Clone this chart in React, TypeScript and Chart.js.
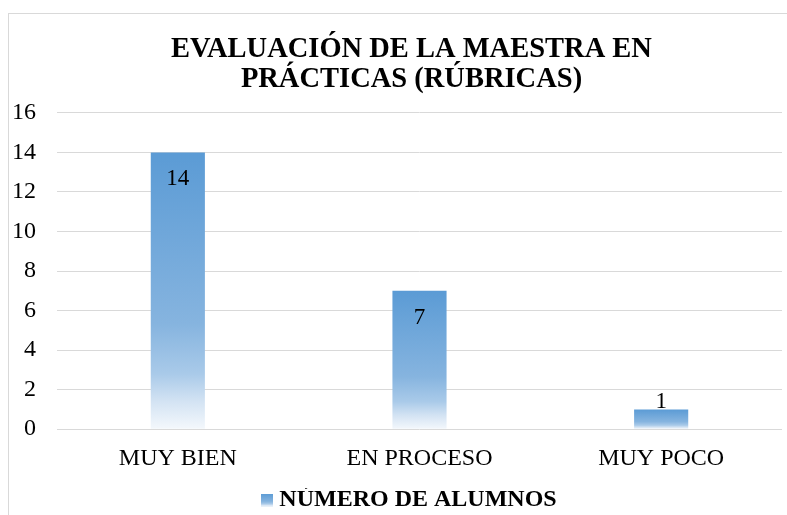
import React, { useEffect, useRef } from "react";
import { Chart, registerables } from "chart.js";

Chart.register(...registerables);

const categories = ["MUY BIEN", "EN PROCESO", "MUY POCO"];
const seriesName = "NÚMERO DE ALUMNOS";
const values = [14, 7, 1];
const yMin = 0;
const yMax = 16;
const yStep = 2;
const titleLines = ["EVALUACIÓN DE LA MAESTRA EN", "PRÁCTICAS (RÚBRICAS)"];

const SERIF = "'Liberation Serif', 'Times New Roman', serif";

function addStops(g: CanvasGradient) {
  g.addColorStop(0, "#5B9BD5");
  g.addColorStop(0.62, "#86B4DF");
  g.addColorStop(0.8, "#A9CAE9");
  g.addColorStop(0.9, "#D3E3F3");
  g.addColorStop(1, "#F4F8FC");
}

function makeLegendIcon(): HTMLCanvasElement {
  const c = document.createElement("canvas");
  c.width = 12;
  c.height = 13;
  const cx = c.getContext("2d")!;
  const g = cx.createLinearGradient(0, 0, 0, 13);
  addStops(g);
  cx.fillStyle = g;
  cx.fillRect(0, 0, 12, 13);
  return c;
}

const labelPlugin = {
  id: "barLabels",
  afterDatasetsDraw(chart: any) {
    const ctx = chart.ctx;
    const meta = chart.getDatasetMeta(0);
    ctx.save();
    ctx.font = `23px ${SERIF}`;
    ctx.fillStyle = "#000";
    ctx.textAlign = "center";
    ctx.textBaseline = "middle";
    meta.data.forEach((el: any, i: number) => {
      const h = el.base - el.y;
      const y = h > 45 ? el.y + 27 : el.y - 7;
      ctx.fillText(String(values[i]), el.x, y);
    });
    ctx.restore();
  },
};

// let the narrow y axis draw its labels to the left of its own box
const axisClipPlugin = {
  id: "axisClip",
  afterLayout(chart: any) {
    const y = chart.scales.y;
    if (y) y.left = 0;
  },
};

export default function App() {
  const ref = useRef<HTMLCanvasElement | null>(null);
  useEffect(() => {
    if (!ref.current) return;
    const icon = makeLegendIcon();
    const chart = new Chart(ref.current, {
      type: "bar",
      data: {
        labels: categories,
        datasets: [
          {
            label: seriesName,
            data: values,
            backgroundColor: (c: any) => {
              const chart = c.chart;
              const ys = chart.scales?.y;
              if (!ys || c.dataIndex === undefined) return "#5B9BD5";
              const v = values[c.dataIndex];
              const top = ys.getPixelForValue(v);
              const bottom = ys.getPixelForValue(0);
              if (!isFinite(top) || !isFinite(bottom) || top === bottom) return "#5B9BD5";
              const g = chart.ctx.createLinearGradient(0, top, 0, bottom);
              addStops(g);
              return g;
            },
            borderWidth: 0,
            barPercentage: 0.224,
            categoryPercentage: 1,
          },
        ],
      },
      options: {
        animation: false,
        responsive: false,
        maintainAspectRatio: false,
        layout: { padding: { left: 32, right: 5, top: 0, bottom: 0 } },
        plugins: {
          title: {
            display: true,
            text: titleLines,
            color: "#000",
            font: { family: SERIF, size: 28.5, weight: "bold", lineHeight: 1.05 },
            padding: { top: 21, bottom: 18 },
          },
          legend: {
            position: "bottom",
            labels: {
              color: "#000",
              font: { family: SERIF, size: 24, weight: "bold" },
              usePointStyle: true,
              boxWidth: 1,
              padding: 0,
              generateLabels: () => [
                {
                  text: seriesName,
                  fillStyle: "#5B9BD5",
                  strokeStyle: "transparent",
                  lineWidth: 0,
                  pointStyle: icon as any,
                  hidden: false,
                  datasetIndex: 0,
                },
              ],
            },
          },
          tooltip: { enabled: false },
        },
        scales: {
          x: {
            grid: { display: false, drawTicks: false },
            border: { display: false },
            ticks: { color: "#000", font: { family: SERIF, size: 24 }, padding: 15 },
          },
          y: {
            min: yMin,
            max: yMax,
            afterFit: (s: any) => {
              s.width = 16;
            },
            grid: { color: "#D9D9D9", lineWidth: 1, drawTicks: false },
            border: { display: false },
            ticks: { color: "#000", font: { family: SERIF, size: 24 }, padding: 21, stepSize: yStep },
          },
        },
      },
      plugins: [labelPlugin, axisClipPlugin],
    });
    return () => chart.destroy();
  }, []);

  return (
    <div
      style={{
        position: "absolute",
        left: 8,
        top: 13,
        width: 779,
        height: 502,
        overflow: "hidden",
        borderLeft: "1px solid #D9D9D9",
        borderTop: "1px solid #D9D9D9",
        background: "#fff",
      }}
    >
      <canvas ref={ref} width={778} height={508} style={{ display: "block", width: 778, height: 508 }} />
    </div>
  );
}
